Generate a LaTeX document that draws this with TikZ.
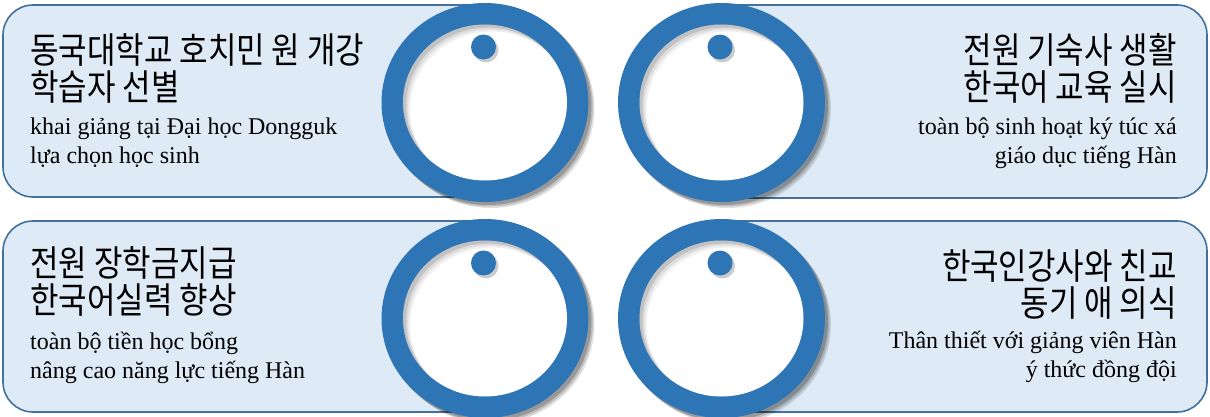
\documentclass[tikz,border=0pt]{standalone}
\usepackage{fontspec}
\setmainfont{Liberation Serif}
\newfontfamily\krfont[FakeStretch=0.86]{Noto Sans CJK KR}
\definecolor{panelfill}{RGB}{222,235,247}
\definecolor{paneledge}{RGB}{65,113,156}
\definecolor{ringblue}{RGB}{46,117,182}

\begin{document}
\begin{tikzpicture}[x=1pt, y=-1pt,
    panel/.style={draw=paneledge, line width=1.6pt, fill=panelfill, rounded corners=30pt},
    krtitle/.style={inner sep=0pt, font=\krfont\fontsize{36}{37}\selectfont},
    vntext/.style={inner sep=0pt, font=\fontsize{24}{28.5}\selectfont}]
    \clip (0,0) rectangle (1210,416);
    \fill[white] (0,0) rectangle (1210,416);

    % panels
    \draw[panel] (3,5) rectangle (500,197);
    \draw[panel] (706,5) rectangle (1207,198);
    \draw[panel] (3,221) rectangle (500,412);
    \draw[panel] (706,221) rectangle (1207,412);

    % ring centres
    \coordinate (c1) at (485,102.5);
    \coordinate (c2) at (721.5,102.5);
    \coordinate (c3) at (485,318.5);
    \coordinate (c4) at (721.5,318.5);

    % rings with shadows
    \foreach \c in {c1,c2,c3,c4} {
        \foreach \s/\o in {6/0.12, 4.5/0.15, 3/0.2} {
            \fill[black, opacity=\o] ([shift={(\s,\s)}]\c) ellipse [x radius=103.5pt, y radius=99.5pt];
        }
        \fill[ringblue] (\c) ellipse [x radius=103.5pt, y radius=99.5pt];
        \fill[white] (\c) ellipse [x radius=82pt, y radius=78pt];
        \begin{scope}
            \clip (\c) ellipse [x radius=82pt, y radius=78pt];
            \foreach \s/\o in {7/0.06, 5/0.08, 3/0.12} {
                \draw[black, opacity=\o, line width=10pt] ([shift={(\s,\s)}]\c) ellipse [x radius=87pt, y radius=83pt];
            }
        \end{scope}
        \fill[black, opacity=0.2] ([shift={(1,-52.5)}]\c) circle [radius=12.5pt];
        \fill[ringblue] ([shift={(-1.5,-55.5)}]\c) circle [radius=12.5pt];
    }

    % texts (base = last line)
    \node[krtitle, anchor=base west, align=left] (kr1) at (30,100) {동국대학교 호치민 원 개강\\학습자 선별};
    \node[vntext, anchor=base west, align=left] (vn1) at ([yshift=-63pt]kr1.base west) {khai giảng tại Đại học Dongguk\\lựa chọn học sinh};

    \node[krtitle, anchor=base east, align=right] (kr2) at (1177,100) {전원 기숙사 생활\\한국어 교육 실시};
    \node[vntext, anchor=base east, align=right] (vn2) at ([yshift=-63pt]kr2.base east) {toàn bộ sinh hoạt ký túc xá\\giáo dục tiếng Hàn};

    \node[krtitle, anchor=base west, align=left] (kr3) at (30,313.5) {전원 장학금지급\\한국어실력 향상};
    \node[vntext, anchor=base west, align=left] (vn3) at ([yshift=-64.5pt]kr3.base west) {toàn bộ tiền học bổng\\nâng cao năng lực tiếng Hàn};

    \node[krtitle, anchor=base east, align=right] (kr4) at (1177,316) {한국인강사와 친교\\동기 애 의식};
    \node[vntext, anchor=base east, align=right] (vn4) at ([yshift=-61pt]kr4.base east) {Thân thiết với giảng viên Hàn\\ý thức đồng đội};
\end{tikzpicture}
\end{document}
